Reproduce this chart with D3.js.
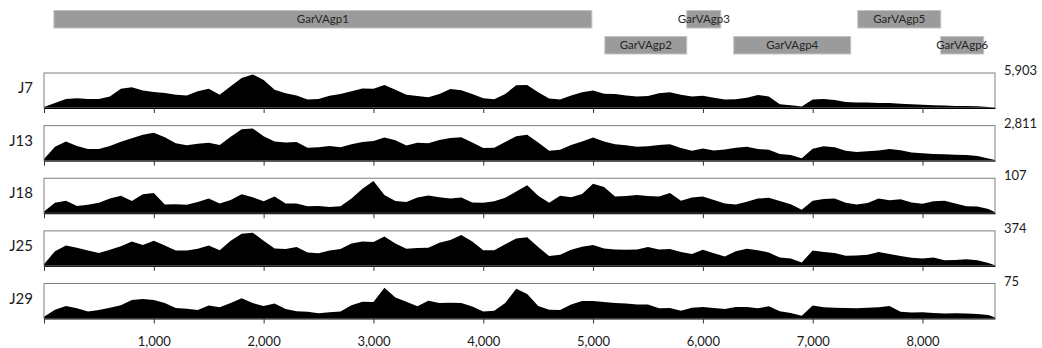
<!DOCTYPE html>
<html>
<head>
<meta charset="utf-8">
<script src="https://cdn.jsdelivr.net/npm/d3@7"></script>
<style>
  body { margin: 0; background: #fff; }
  svg { display: block; font-family: Lato, "Open Sans", sans-serif; }
</style>
</head>
<body>
<svg id="chart" width="1042" height="348"></svg>
<script>
const positions = [0,100,200,300,400,500,600,700,800,900,
  1000,1100,1200,1300,1400,1500,1600,1700,1800,1900,
  2000,2100,2200,2300,2400,2500,2600,2700,2800,2900,
  3000,3100,3200,3300,3400,3500,3600,3700,3800,3900,
  4000,4100,4200,4300,4400,4500,4600,4700,4800,4900,
  5000,5100,5200,5300,5400,5500,5600,5700,5800,5900,
  6000,6100,6200,6300,6400,6500,6600,6700,6800,6900,
  7000,7100,7200,7300,7400,7500,7600,7700,7800,7900,
  8000,8100,8200,8300,8400,8500,8600,8660];

const samples = ["J7", "J13", "J18", "J25", "J29"];
const maxDepth = ["5,903", "2,811", "107", "374", "75"];

// coverage as % of each sample's max depth
const covJ7 = [3,14,26,28,26,26,33,55,59,50,
  46,43,38,36,48,55,38,62,86,96,
  80,52,42,36,24,26,35,40,48,56,
  55,66,52,38,34,31,40,54,51,40,
  28,25,40,65,66,45,27,24,36,45,
  50,41,40,36,33,34,42,45,38,33,
  35,29,24,25,29,37,33,11,8,4,
  24,26,23,17,16,16,14,14,12,11,
  9,8,7,6,6,5,3,1];
const covJ13 = [5,40,55,42,33,33,42,54,64,74,
  80,67,50,44,48,51,45,68,90,92,
  70,55,52,53,37,38,42,38,47,53,
  56,66,58,43,51,50,59,65,67,52,
  36,37,53,70,74,52,28,31,45,55,
  66,55,47,44,40,41,45,47,36,28,
  35,29,32,37,40,33,31,19,16,7,
  34,41,38,28,25,27,29,33,30,23,
  21,19,18,17,16,13,6,2];
const covJ18 = [5,30,36,21,24,30,42,50,35,54,
  58,25,26,24,32,42,28,38,54,46,
  34,48,28,28,20,21,18,20,42,70,
  92,52,35,32,45,51,46,42,45,31,
  30,34,44,62,80,50,30,50,46,55,
  84,75,48,49,52,49,48,58,36,45,
  48,38,28,25,33,42,44,35,26,10,
  36,41,42,30,25,29,42,37,40,31,
  27,34,36,28,20,19,12,3];
const covJ25 = [5,42,58,52,44,37,46,56,70,60,
  72,58,44,44,49,58,45,72,92,95,
  72,50,48,54,38,36,44,48,64,70,
  68,84,64,49,51,52,66,74,88,70,
  45,45,62,78,82,54,28,32,46,55,
  60,50,47,46,47,54,47,48,40,34,
  46,36,27,42,49,45,38,24,21,10,
  44,40,37,29,30,32,40,34,28,23,
  21,24,16,17,19,16,8,2];
const covJ29 = [5,25,36,29,20,24,31,38,53,56,
  53,44,30,28,24,37,32,44,58,44,
  36,43,27,21,19,15,18,20,38,48,
  47,88,60,48,35,51,44,45,44,34,
  20,22,44,85,70,36,25,24,40,50,
  50,47,44,43,40,40,29,30,22,31,
  33,30,27,33,33,29,35,21,16,8,
  37,32,31,30,29,31,32,36,19,17,
  18,16,14,15,14,13,10,3];
const coverage = [covJ7, covJ13, covJ18, covJ25, covJ29];

const tickValues = [0,1000,2000,3000,4000,5000,6000,7000,8000];

// genome annotation
const geneNames = ["GarVAgp1","GarVAgp2","GarVAgp3","GarVAgp4","GarVAgp5","GarVAgp6"];
const geneStart = [90, 5107, 5853, 6281, 7410, 8166];
const geneEnd   = [4989, 5853, 6163, 7346, 8166, 8557];
const geneRow   = [0, 1, 0, 1, 0, 1];

const svg = d3.select("#chart");
const genomeLength = 8660;

const x = d3.scaleLinear().domain([0, genomeLength]).range([44, 995]);

// gene bars
const rowY = d3.scaleOrdinal().domain([0, 1]).range([10.5, 36.5]);
const barH = 17.5;
const genes = svg.append("g").attr("class", "genes")
  .selectAll("g").data(geneNames).enter().append("g");
genes.append("rect")
  .attr("x", (d, i) => x(geneStart[i]))
  .attr("y", (d, i) => rowY(geneRow[i]))
  .attr("width", (d, i) => x(geneEnd[i]) - x(geneStart[i]))
  .attr("height", barH)
  .attr("fill", "#9b9b9b")
  .attr("stroke", "#c4c4c4")
  .attr("stroke-width", 1);
genes.append("text")
  .attr("x", (d, i) => (x(geneStart[i]) + x(geneEnd[i])) / 2)
  .attr("y", (d, i) => rowY(geneRow[i]) + barH / 2 + 4)
  .attr("text-anchor", "middle")
  .attr("font-size", "11.5px")
  .attr("fill", "#262626")
  .text(d => d);

// coverage panels
const panelTop = d3.scaleLinear().domain([0, 4]).range([73, 283.5]);
const panelH = 35;

samples.forEach((name, i) => {
  const top = panelTop(i);
  const y = d3.scaleLinear().domain([0, 100]).range([top + panelH, top]);
  const g = svg.append("g").attr("class", "panel");

  const area = d3.area()
    .x((d, j) => x(positions[j]))
    .y0(top + panelH)
    .y1(d => y(d))
    .curve(d3.curveLinear);

  g.append("path")
    .datum(coverage[i])
    .attr("d", area)
    .attr("fill", "#000");

  g.append("rect")
    .attr("x", x(0))
    .attr("y", top)
    .attr("width", x(genomeLength) - x(0))
    .attr("height", panelH)
    .attr("fill", "none")
    .attr("stroke", "#808080")
    .attr("stroke-width", 1);

  const isLast = i === samples.length - 1;
  const axis = d3.axisBottom(x)
    .tickValues(tickValues)
    .tickSize(5)
    .tickSizeOuter(0)
    .tickPadding(13)
    .tickFormat(d => (isLast && d > 0) ? d3.format(",")(d) : "");
  const ax = g.append("g")
    .attr("transform", "translate(0," + (top + panelH) + ")")
    .call(axis);
  ax.select(".domain").attr("stroke", "#000");
  ax.selectAll(".tick line").attr("stroke", "#333");
  ax.selectAll(".tick text")
    .attr("font-size", "13px")
    .attr("font-family", "Lato, 'Open Sans', sans-serif")
    .attr("fill", "#1a1a1a");

  g.append("text")
    .attr("x", 33)
    .attr("y", top + 20)
    .attr("text-anchor", "end")
    .attr("font-size", "15px")
    .attr("fill", "#1a1a1a")
    .text(name);

  g.append("text")
    .attr("x", 1004)
    .attr("y", top + 2)
    .attr("font-size", "13px")
    .attr("fill", "#1a1a1a")
    .text(maxDepth[i]);
});
</script>
</body>
</html>
